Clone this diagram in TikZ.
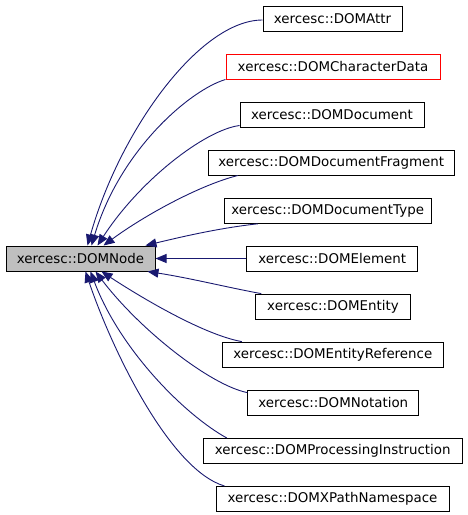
\documentclass[tikz,border=0pt]{standalone}
\usepackage{fontspec}
\setmainfont{DejaVu Sans}
\usetikzlibrary{arrows.meta}
\definecolor{edgeblue}{RGB}{25,25,112}
\definecolor{basegray}{RGB}{191,191,191}
\begin{document}
\begin{tikzpicture}[x=1pt,y=-1pt,
  box/.style={draw=black,line width=1pt,minimum height=25pt,inner sep=0pt,
    font=\fontsize{13.4}{16}\selectfont,fill=white},
  edge/.style={draw=edgeblue,line width=0.9pt,-{Triangle[length=11pt,width=9pt]}}]
\useasboundingbox (0,0) rectangle (467,515);
\node[box,fill=basegray,minimum width=149pt] (base) at (80.5,258.5) {xercesc::DOMNode};
\node[box,minimum width=139pt] (attr) at (332.5,18.5) {xercesc::DOMAttr};
\node[box,draw=red,minimum width=214pt] (chardata) at (333,66.5) {xercesc::DOMCharacterData};
\node[box,minimum width=184pt] (doc) at (332,114.5) {xercesc::DOMDocument};
\node[box,minimum width=246pt] (frag) at (331.3,162.5) {xercesc::DOMDocumentFragment};
\node[box,minimum width=207pt] (dtype) at (327.7,210.8) {xercesc::DOMDocumentType};
\node[box,minimum width=171pt] (elem) at (332.2,258.5) {xercesc::DOMElement};
\node[box,minimum width=154.5pt] (entity) at (333,306.6) {xercesc::DOMEntity};
\node[box,minimum width=221pt] (eref) at (332.8,354.6) {xercesc::DOMEntityReference};
\node[box,minimum width=171pt] (notation) at (333.3,402.6) {xercesc::DOMNotation};
\node[box,minimum width=259pt] (pi) at (332.8,451) {xercesc::DOMProcessingInstruction};
\node[box,minimum width=233pt] (xpath) at (332.5,499) {xercesc::DOMXPathNamespace};

\draw[edge] ([yshift=-1.5pt]attr.west) .. controls (200,20) and (120,130) .. ([xshift=82pt]base.north west);
\draw[edge] (chardata.south west) .. controls (190,90) and (120,150) .. ([xshift=86pt]base.north west);
\draw[edge] ([yshift=2pt]doc.south west) .. controls (205,130) and (140,180) .. ([xshift=92pt]base.north west);
\draw[edge] ([xshift=30pt]frag.south west) .. controls (200,185) and (145,215) .. ([xshift=98pt]base.north west);
\draw[edge] ([xshift=34pt]dtype.south west) .. controls (220,228) and (185,236) .. ([xshift=140pt]base.north west);
\draw[edge] (elem.west) -- (base.east);
\draw[edge] ([xshift=6pt]entity.north west) .. controls (230,288) and (190,278) .. ([xshift=142pt]base.south west);
\draw[edge] ([xshift=20pt]eref.north west) .. controls (205,335) and (145,300) .. ([xshift=96pt]base.south west);
\draw[edge] ([yshift=-3pt]notation.north west) .. controls (210,385) and (140,330) .. ([xshift=90pt]base.south west);
\draw[edge] ([xshift=24pt]pi.north west) .. controls (185,415) and (120,350) .. ([xshift=85pt]base.south west);
\draw[edge] ([xshift=9pt]xpath.north west) .. controls (170,470) and (112,350) .. ([xshift=80pt]base.south west);
\end{tikzpicture}
\end{document}
